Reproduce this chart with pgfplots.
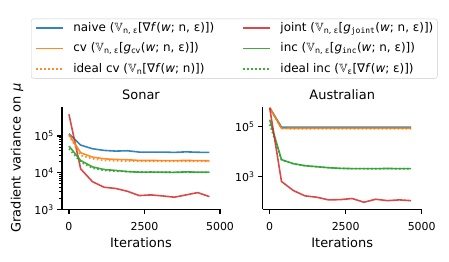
\documentclass[border=0pt]{standalone}
\usepackage{amssymb}
\usepackage{fontspec}
\setmainfont{DejaVu Sans}
\setmonofont{DejaVu Sans Mono}
\usepackage{pgfplots}
\usepackage{pgfplotstable}
\pgfplotsset{compat=1.18}
\definecolor{tabblue}{HTML}{1F77B4}
\definecolor{taborange}{HTML}{FF7F0E}
\definecolor{tabgreen}{HTML}{2CA02C}
\definecolor{tabred}{HTML}{D62728}
\tikzset{
  snaive/.style={tabblue, line width=1.6bp, opacity=0.9},
  scv/.style={taborange, line width=1.6bp, opacity=0.9},
  sidealcv/.style={taborange, line width=1.6bp, dash pattern=on 1.5bp off 2.5bp, opacity=0.9},
  sjoint/.style={tabred, line width=1.6bp, opacity=0.85},
  sinc/.style={tabgreen, line width=1.6bp, opacity=0.9},
  sidealinc/.style={tabgreen, line width=1.6bp, dash pattern=on 1.5bp off 2.5bp, opacity=0.9},
}
\pgfplotstableread{
x naive cv idealcv joint inc idealinc
0 116000 110000 104000 390000 53200 45000
387.5 56600 34900 29500 12700 21500 19400
775 45000 26600 23900 5700 14400 13300
1162.5 40500 23900 21500 4000 12200 11500
1550 38800 22900 21000 3700 11500 11000
1937.5 39600 22500 20600 3100 10700 10700
2325 36500 21500 20600 2370 10300 10500
2712.5 36500 21500 20400 2470 10400 10300
3100 36500 21300 20500 2320 10300 10300
3487.5 35700 21300 20300 2140 10200 10200
3875 37000 21500 20500 2470 10500 10300
4262.5 36000 21300 20400 2860 10300 10200
4650 35700 21100 20300 2220 10300 10200
}\sonar
\pgfplotstableread{
x naive cv idealcv joint inc idealinc
0 582000 570000 560000 560000 190000 123000
387.5 97000 86000 84000 650 4840 4700
775 97000 87000 83000 282 3340 3300
1162.5 96000 87000 83000 172 2770 2750
1550 96000 87500 82500 152 2530 2500
1937.5 96000 88000 82500 119 2300 2300
2325 96000 88000 82500 122 2170 2150
2712.5 97000 88000 82000 135 2120 2100
3100 96000 88000 82000 96 2100 2100
3487.5 96000 88000 82000 126 2100 2080
3875 96000 88000 82000 111 2150 2120
4262.5 95000 88000 82000 119 2100 2080
4650 95000 88000 82000 111 2100 2080
}\australian
\begin{document}
\begin{tikzpicture}[x=1bp,y=1bp]
\useasboundingbox (0,0) rectangle (449,261);
\begin{axis}[at={(62bp,51.7bp)}, anchor=south west,
  scale only axis, width=158bp, height=102.6bp,
  ymode=log,
  xmin=-230, xmax=5000, xtick={0,2500,5000}, xticklabels={0,2500,5000},
  axis lines*=left, axis line style={line width=1.1bp, black},
  tick align=outside, major tick length=4.7bp, minor tick length=2.7bp,
  tick style={black, line width=1.1bp}, minor tick style={line width=0.8bp},
  tick label style={font=\fontsize{11}{13}\selectfont},
  xticklabel style={anchor=base, yshift=-16bp},
  title style={font=\fontsize{13}{15}\selectfont, at={(0.5,1)}, anchor=base, yshift=1.4bp},
  xlabel={Iterations},
  xlabel style={font=\fontsize{13}{15}\selectfont, at={(0.5,0)}, anchor=base, yshift=-38.4bp},
  legend image code/.code={\draw[#1] (0bp,0bp) -- (27bp,0bp); \path (36.5bp,0bp);},
  ymin=1000, ymax=631000,
  ytick={1000,10000,100000},
  yticklabels={10\textsuperscript{3},10\textsuperscript{4},10\textsuperscript{5}},
  title={Sonar},
  ylabel={Gradient variance on \textit{μ}},
  ylabel style={font=\fontsize{13}{15}\selectfont, at={(-0.285,0.5)}, anchor=center},
  legend columns=2,
  legend cell align=left,
  legend style={at={(-0.196,1.858)}, anchor=north west, draw=black!20, rounded corners=2.5bp,
    inner xsep=4bp, inner ysep=3bp, font=\fontsize{12}{14}\selectfont,
    nodes={inner sep=0pt, text height=9.5bp, text depth=3bp}, row sep=8bp},
]
\addplot[snaive] table[x=x,y=naive] {\sonar};
\addlegendentry{\makebox[169bp][l]{naive (\(\mathbb{V}\)\textsubscript{n, ε}[∇\textit{f}(\textit{w}; n, ε)])}}
\addplot[sjoint] table[x=x,y=joint] {\sonar};
\addlegendentry{joint (\(\mathbb{V}\)\textsubscript{n, ε}[\textit{g}\textsubscript{\texttt{joint}}(\textit{w}; n, ε)])}
\addplot[scv] table[x=x,y=cv] {\sonar};
\addlegendentry{\makebox[169bp][l]{cv (\(\mathbb{V}\)\textsubscript{n, ε}[\textit{g}\textsubscript{cv}(\textit{w}; n, ε)])}}
\addplot[sinc] table[x=x,y=inc] {\sonar};
\addlegendentry{inc (\(\mathbb{V}\)\textsubscript{n, ε}[\textit{g}\textsubscript{\texttt{inc}}(\textit{w}; n, ε)])}
\addplot[sidealcv] table[x=x,y=idealcv] {\sonar};
\addlegendentry{\makebox[169bp][l]{ideal cv (\(\mathbb{V}\)\textsubscript{n}[∇\textit{f}(\textit{w}; n)])}}
\addplot[sidealinc] table[x=x,y=idealinc] {\sonar};
\addlegendentry{ideal inc (\(\mathbb{V}\)\textsubscript{ε}[∇\textit{f}(\textit{w}; ε)])}
\end{axis}
\begin{axis}[at={(262.7bp,51.7bp)}, anchor=south west,
  scale only axis, width=159bp, height=102.6bp,
  ymode=log,
  xmin=-230, xmax=5000, xtick={0,2500,5000}, xticklabels={0,2500,5000},
  axis lines*=left, axis line style={line width=1.1bp, black},
  tick align=outside, major tick length=4.7bp, minor tick length=2.7bp,
  tick style={black, line width=1.1bp}, minor tick style={line width=0.8bp},
  tick label style={font=\fontsize{11}{13}\selectfont},
  xticklabel style={anchor=base, yshift=-16bp},
  title style={font=\fontsize{13}{15}\selectfont, at={(0.5,1)}, anchor=base, yshift=1.4bp},
  xlabel={Iterations},
  xlabel style={font=\fontsize{13}{15}\selectfont, at={(0.5,0)}, anchor=base, yshift=-38.4bp},
  ymin=50, ymax=631000,
  ytick={1000,100000},
  yticklabels={10\textsuperscript{3},10\textsuperscript{5}},
  yminorticks=false,
  title={Australian},
]
\addplot[snaive] table[x=x,y=naive] {\australian};
\addplot[scv] table[x=x,y=cv] {\australian};
\addplot[sidealcv] table[x=x,y=idealcv] {\australian};
\addplot[sinc] table[x=x,y=inc] {\australian};
\addplot[sidealinc] table[x=x,y=idealinc] {\australian};
\addplot[sjoint] table[x=x,y=joint] {\australian};
\end{axis}
\end{tikzpicture}
\end{document}
